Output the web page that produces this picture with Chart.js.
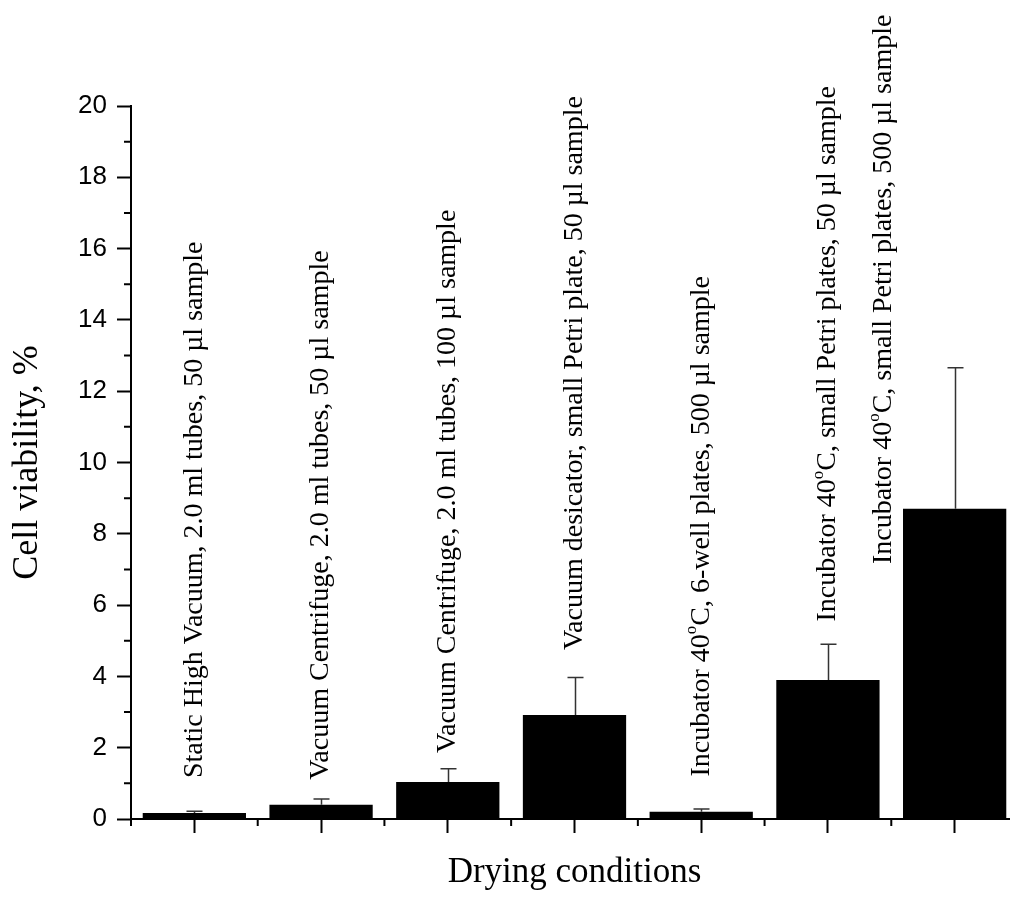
<!DOCTYPE html>
<html>
<head>
<meta charset="utf-8">
<script src="https://cdn.jsdelivr.net/npm/chart.js@4.4.0/dist/chart.umd.min.js"></script>
<style>
  html, body { margin: 0; padding: 0; background: #fff; overflow: hidden; }
  #wrap { position: relative; width: 1030px; height: 905px; }
</style>
</head>
<body>
<div id="wrap"><canvas id="chart"></canvas></div>
<script>
// Drying conditions (the ° is drawn as a raised small "o")
const conditions = [
    'Static High Vacuum, 2.0 ml tubes, 50 µl sample',
    'Vacuum Centrifuge, 2.0 ml tubes, 50 µl sample',
    'Vacuum Centrifuge, 2.0 ml tubes, 100 µl sample',
    'Vacuum desicator, small Petri plate, 50 µl sample',
    'Incubator 40°C, 6-well plates, 500 µl sample',
    'Incubator 40°C, small Petri plates, 50 µl sample',
    'Incubator 40°C, small Petri plates, 500 µl sample'
];
// mean cell viability, %
const viability = [0.17, 0.40, 1.04, 2.92, 0.20, 3.90, 8.70];
// upper error bar, %
const viabilityErr = [0.05, 0.16, 0.37, 1.05, 0.08, 1.00, 3.96];
// y axis range and tick step
const yMin = 0;
const yMax = 20;
const yStep = 2;

// layout of the rotated labels: start value on the y axis, sideways shift in categories
const labelStart = [1.15, 1.10, 1.85, 4.74, 1.19, 5.54, 7.15];
const labelShift = [0, 0, 0, 0, 0, 0, -0.56];

const labelSize = 28;

// error bars, minor ticks and the rotated condition labels
const extras = {
    id: 'extras',
    afterDatasetsDraw(chart) {
        const { ctx, chartArea, scales: { x, y } } = chart;
        ctx.save();

        // upper error bars
        ctx.strokeStyle = '#333';
        ctx.lineWidth = 1.5;
        viability.forEach((v, i) => {
            const px = Math.round(x.getPixelForValue(i)) + 0.5;
            const y0 = y.getPixelForValue(v);
            const y1 = y.getPixelForValue(v + viabilityErr[i]);
            ctx.beginPath();
            ctx.moveTo(px, y0);
            ctx.lineTo(px, y1);
            ctx.moveTo(px - 8, y1);
            ctx.lineTo(px + 8, y1);
            ctx.stroke();
        });

        // minor ticks
        ctx.strokeStyle = '#000';
        ctx.lineWidth = 2;
        ctx.beginPath();
        for (let v = yMin + yStep / 2; v < yMax; v += yStep) {
            const py = y.getPixelForValue(v);
            ctx.moveTo(chartArea.left - 7, py);
            ctx.lineTo(chartArea.left, py);
        }
        for (let i = 0; i <= conditions.length; i++) {
            const px = x.getPixelForValue(i - 0.5);
            ctx.moveTo(px, chartArea.bottom);
            ctx.lineTo(px, chartArea.bottom + 7);
        }
        ctx.stroke();

        // rotated labels
        ctx.fillStyle = '#000';
        ctx.textAlign = 'left';
        ctx.textBaseline = 'middle';
        conditions.forEach((text, i) => {
            const px = x.getPixelForValue(i + labelShift[i]);
            const py = y.getPixelForValue(labelStart[i]);
            ctx.save();
            ctx.translate(px, py);
            ctx.rotate(-Math.PI / 2);
            let cx = 0;
            text.split('°').forEach((part, k) => {
                if (k > 0) {
                    ctx.font = Math.round(labelSize * 0.6) + 'px "Liberation Serif"';
                    ctx.fillText('o', cx, -labelSize * 0.33);
                    cx += ctx.measureText('o').width;
                }
                ctx.font = labelSize + 'px "Liberation Serif"';
                ctx.fillText(part, cx, 0);
                cx += ctx.measureText(part).width;
            });
            ctx.restore();
        });

        ctx.restore();
    }
};

new Chart(document.getElementById('chart'), {
    type: 'bar',
    data: {
        labels: conditions,
        datasets: [{
            data: viability,
            backgroundColor: '#000',
            borderWidth: 0,
            barPercentage: 0.815,
            categoryPercentage: 1
        }]
    },
    options: {
        responsive: true,
        maintainAspectRatio: false,
        animation: false,
        layout: { padding: { top: 106, right: 12, bottom: 0, left: 0 } },
        plugins: {
            legend: { display: false },
            tooltip: { enabled: false }
        },
        scales: {
            x: {
                grid: { offset: false, drawOnChartArea: false, tickLength: 14, tickWidth: 2, tickColor: '#000' },
                border: { display: true, color: '#000', width: 2 },
                ticks: { display: false },
                title: {
                    display: true,
                    text: 'Drying conditions',
                    color: '#000',
                    font: { family: '"Liberation Serif"', size: 35 },
                    padding: { top: 0, bottom: 11 }
                },
                afterFit: s => { s.height = 86; }
            },
            y: {
                min: yMin,
                max: yMax,
                grid: { drawOnChartArea: false, tickLength: 14, tickWidth: 2, tickColor: '#000' },
                border: { display: true, color: '#000', width: 2 },
                ticks: {
                    stepSize: yStep,
                    color: '#000',
                    padding: 10,
                    font: { family: '"Liberation Sans"', size: 26 }
                },
                title: {
                    display: true,
                    text: 'Cell viability, %',
                    color: '#000',
                    font: { family: '"Liberation Serif"', size: 36 },
                    padding: { top: 6, bottom: 0 }
                },
                afterFit: s => { s.width = 131; }
            }
        }
    },
    plugins: [extras]
});
</script>
</body>
</html>
